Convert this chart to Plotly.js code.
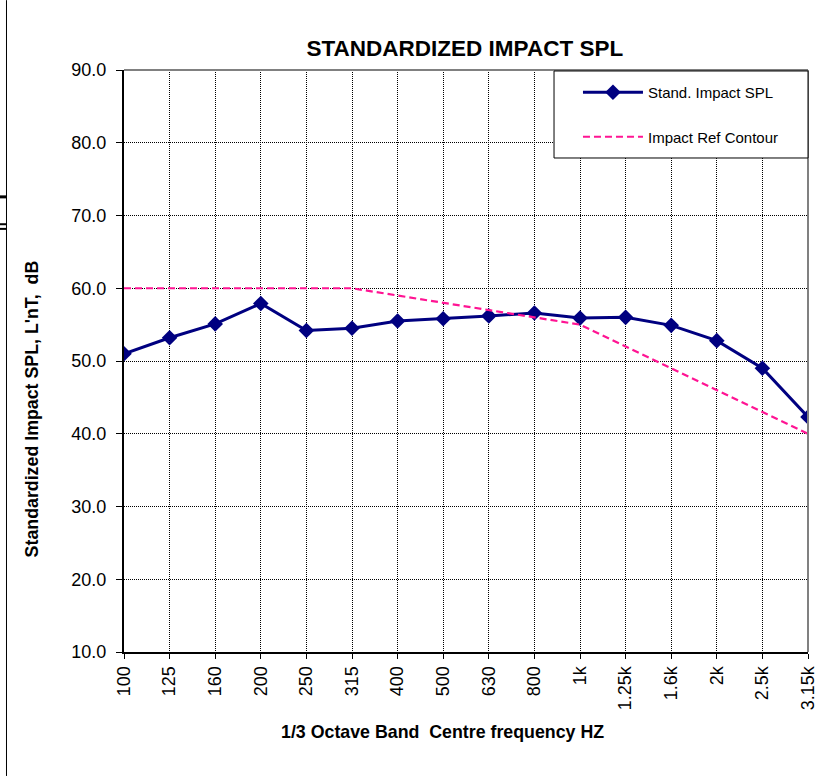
<!DOCTYPE html>
<html>
<head>
<meta charset="utf-8">
<script src="https://cdn.plot.ly/plotly-3.0.1.min.js"></script>
<style>html,body{margin:0;padding:0;background:#fff;}#chart{width:834px;height:776px;}</style>
</head>
<body>
<div id="chart"></div>
<script>
const bands = ["100","125","160","200","250","315","400","500","630","800","1k","1.25k","1.6k","2k","2.5k","3.15k"];
const impactSPL = [51.0,53.2,55.1,57.9,54.2,54.5,55.5,55.8,56.2,56.6,55.9,56.0,54.9,52.8,49.0,42.3];
const refContour = [60,60,60,60,60,60,59,58,57,56,55,52,49,46,43,40];
const yTicks = [10,20,30,40,50,60,70,80,90];

const font = "Liberation Sans, Arial, sans-serif";

const traces = [
  {
    x: bands, y: impactSPL, type: "scatter", mode: "lines+markers",
    name: "Stand. Impact SPL", legendgroup: "a",
    line: {color: "#000080", width: 3},
    marker: {symbol: "diamond", size: 12, color: "#000080"}
  },
  {
    x: bands, y: refContour, type: "scatter", mode: "lines",
    name: "Impact Ref Contour", legendgroup: "b",
    line: {color: "#FF1493", width: 2.2, dash: "7px,4px"}
  }
];

const layout = {
  width: 834, height: 776,
  margin: {l: 124, r: 26, t: 70, b: 124},
  paper_bgcolor: "#fff", plot_bgcolor: "#fff",
  font: {family: font, color: "#000", size: 18},
  title: {text: "<b>STANDARDIZED IMPACT SPL</b>", x: 0.5574, xanchor: "center", y: 0.938, yanchor: "middle",
          font: {family: font, size: 22.5, color: "#000"}},
  showlegend: true,
  legend: {
    x: 0.6637, xanchor: "left", y: 0.9897, yanchor: "top",
    bgcolor: "rgba(0,0,0,0)", borderwidth: 0,
    font: {family: font, size: 15, color: "#000"},
    traceorder: "grouped", tracegroupgap: 22,
    itemwidth: 60
  },
  xaxis: {
    type: "category", range: [0, 15],
    tickangle: -90, tickfont: {family: font, size: 18},
    ticks: "outside", ticklen: 5, tickcolor: "#000",
    showline: true, linecolor: "#000", linewidth: 2,
    showgrid: true, gridcolor: "#000", griddash: "1px,1px", gridwidth: 1,
    zeroline: false
  },
  yaxis: {
    range: [10, 90], tickvals: yTicks, tickformat: ".1f",
    tickfont: {family: font, size: 18},
    ticks: "outside", ticklen: 6, tickcolor: "#000", ticklabelstandoff: 6,
    showline: true, linecolor: "#000", linewidth: 2,
    showgrid: true, gridcolor: "#000", griddash: "1px,1px", gridwidth: 1,
    zeroline: false
  },
  annotations: [
    {text: "<b>Standardized Impact SPL, L'nT,  dB</b>", xref: "paper", yref: "paper",
     x: -0.135, y: 0.418, textangle: -90, showarrow: false,
     font: {family: font, size: 17.8, color: "#000"}, xanchor: "center", yanchor: "middle"},
    {text: "<b>1/3 Octave Band  Centre frequency HZ</b>", xref: "paper", yref: "paper",
     x: 0.465, y: -0.1375, showarrow: false,
     font: {family: font, size: 17.8, color: "#000"}, xanchor: "center", yanchor: "middle"}
  ],
  shapes: [
    {type: "line", xref: "paper", yref: "paper", x0: 0, x1: 1, y0: 1, y1: 1, line: {color: "#808080", width: 2}},
    {type: "line", xref: "paper", yref: "paper", x0: 1, x1: 1, y0: 0, y1: 1, line: {color: "#808080", width: 2}},
    {type: "rect", xref: "paper", yref: "paper", x0: 0.6287, x1: 1.0, y0: 0.8488, y1: 0.9983,
     fillcolor: "#fff", line: {color: "#000", width: 1}, layer: "above"},
    {type: "line", xref: "paper", yref: "paper", x0: -0.1718, x1: -0.1718, y0: -0.213, y1: 1.12, line: {color: "#000", width: 1}},
    {type: "line", xref: "paper", yref: "paper", x0: -0.182, x1: -0.1718, y0: 0.782, y1: 0.782, line: {color: "#000", width: 3}},
    {type: "line", xref: "paper", yref: "paper", x0: -0.182, x1: -0.1718, y0: 0.735, y1: 0.735, line: {color: "#000", width: 2}},
    {type: "line", xref: "paper", yref: "paper", x0: -0.182, x1: -0.1718, y0: 0.727, y1: 0.727, line: {color: "#000", width: 2}}
  ]
};

Plotly.newPlot("chart", traces, layout, {displayModeBar: false, staticPlot: true});
</script>
</body>
</html>
